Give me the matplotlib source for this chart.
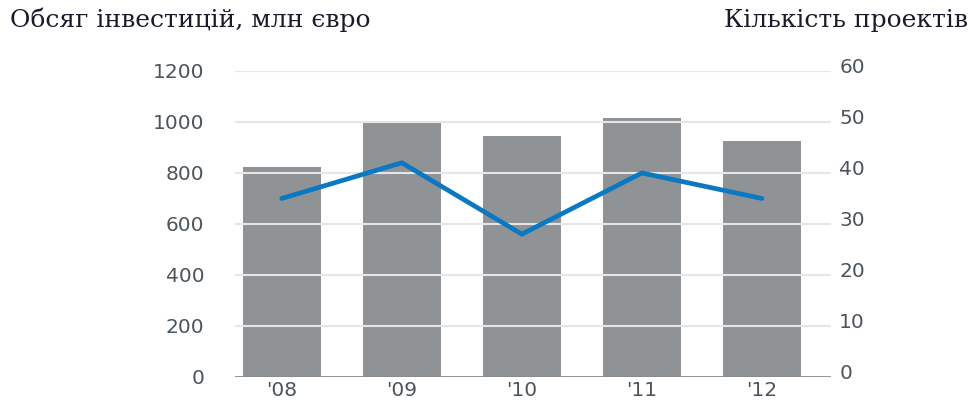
import matplotlib.pyplot as plt
import matplotlib.transforms as mtransforms

# Дані
years = ["'08", "'09", "'10", "'11", "'12"]
investments = [825, 1000, 945, 1015, 925]   # млн євро
projects = [35, 42, 28, 40, 35]             # кількість проектів
left_ticks = [0, 200, 400, 600, 800, 1000, 1200]
right_ticks = [0, 10, 20, 30, 40, 50, 60]

label_color = "#4d555c"
tick_font = {"family": "DejaVu Sans", "size": 14.5, "color": label_color}

fig = plt.figure(figsize=(9.73, 4.01), dpi=100)
ax = fig.add_axes([0.2415, 0.06, 0.6125, 0.763])
ax2 = ax.twinx()

x = list(range(len(years)))
ax.bar(x, investments, width=0.65, color="#8f9396", zorder=1)

# сітка поверх стовпчиків
for t in left_ticks[1:]:
    ax.axhline(t, color="#e6e6e6", lw=1.5, zorder=2)
ax.axhline(0, color="#8a8a8a", lw=2, zorder=3)

ax.set_xlim(-0.39, 4.575)
ax.set_ylim(0, 1200)
ax2.set_ylim(0, 60)
ax2.plot(x, projects, color="#0a78c2", lw=3.4, solid_capstyle="round",
         solid_joinstyle="miter", zorder=4)

for a in (ax, ax2):
    for s in a.spines.values():
        s.set_visible(False)

ax.set_yticks(left_ticks)
ax.set_yticklabels([str(t) for t in left_ticks], fontdict=tick_font)
ax.tick_params(axis="y", length=0, pad=22)
ax.set_xticks(x)
ax.set_xticklabels(years, fontdict=tick_font)
ax.tick_params(axis="x", length=0, pad=3)

ax2.set_yticks(right_ticks)
ax2.set_yticklabels([str(t) for t in right_ticks], fontdict=tick_font)
ax2.tick_params(axis="y", length=0, pad=6)
# праві підписи трохи вище ліній сітки
shift = mtransforms.ScaledTranslation(0, 5 / 100, fig.dpi_scale_trans)
for lbl in ax2.get_yticklabels():
    lbl.set_transform(lbl.get_transform() + shift)

fig.text(0.01, 0.95, "Обсяг інвестицій, млн євро", family="DejaVu Serif",
         fontsize=18, color="#1a1a2a", va="center", ha="left")
fig.text(0.995, 0.95, "Кількість проектів", family="DejaVu Serif",
         fontsize=18, color="#1a1a2a", va="center", ha="right")

fig.savefig("out.png", dpi=100)
